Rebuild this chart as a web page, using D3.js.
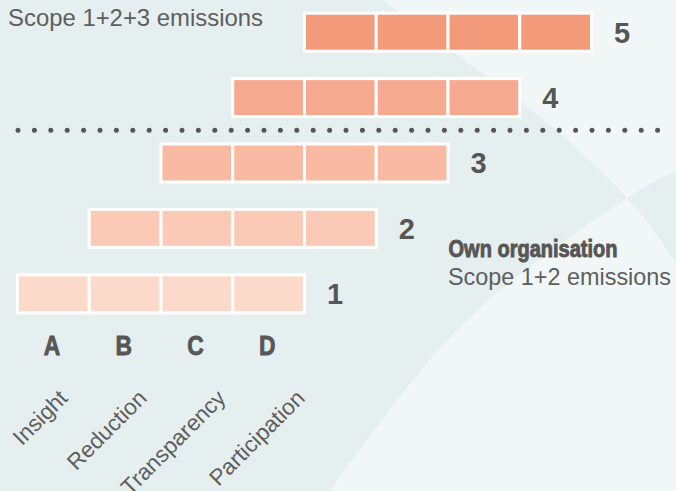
<!DOCTYPE html>
<html>
<head>
<meta charset="utf-8">
<script src="https://cdn.jsdelivr.net/npm/d3@7/dist/d3.min.js"></script>
<style>
  html, body { margin: 0; padding: 0; background: #e6eff0; }
  svg { display: block; }
  .plain { font-family: "Liberation Sans", Arial, sans-serif; fill: #5e5e5e; }
  .narrow { font-family: "Liberation Sans", Arial, sans-serif; font-weight: bold; fill: #565656; stroke: #565656; stroke-width: 0.9px; }
  .digit { font-family: "Liberation Sans", Arial, sans-serif; font-weight: bold; fill: #565656; }
</style>
</head>
<body>
<div id="chart"></div>
<script>
var svgWidth = 676;
var svgHeight = 491;

// maturity levels, bottom to top
var levels = [1, 2, 3, 4, 5];
// the four steps on every level
var steps = ["A", "B", "C", "D"];
var stepNames = ["Insight", "Reduction", "Transparency", "Participation"];
// texts
var scopeAll = "Scope 1+2+3 emissions";
var ownTitle = "Own organisation";
var ownScope = "Scope 1+2 emissions";
// dotted divider goes between these levels
var dividerBetween = [3, 4];

var svg = d3.select("#chart")
  .append("svg")
  .attr("width", svgWidth)
  .attr("height", svgHeight);

// background: two big crossing arcs, lighter where only one of them covers
var line = d3.line().curve(d3.curveCatmullRom);
var arc1 = [[370, -10], [383, 0], [464, 60], [544, 120], [627, 198], [676, 263], [692, 290]];
var arc2 = [[700, 156], [676, 170], [627, 198], [467, 320], [340, 477], [322, 505]];
svg.append("path")
  .attr("d", line(arc1) + "L700,-10Z" + line(arc2) + "L700,505Z")
  .attr("fill", "#f1f7f7")
  .attr("fill-rule", "evenodd");

// scales
var colW = 71.75;
var barH = 41;
var x = d3.scaleLinear().domain([0, 1]).range([17.5, 17.5 + colW]);
var y = d3.scaleLinear().domain([5, 1]).range([11.7, 273.3]);
var color = d3.scaleLinear().domain([1, 5]).range(["#fcdacb", "#f39a7b"]);
var labelX = d3.scalePoint().domain(stepNames).range([69, 306]);

var cells = [];
levels.forEach(function(L) {
  steps.forEach(function(s, i) {
    cells.push({ level: L, step: s, col: L - 1 + i });
  });
});

var chartGroup = svg.append("g");

chartGroup.selectAll("rect.cell")
  .data(cells)
  .enter()
  .append("rect")
  .attr("class", "cell")
  .attr("x", d => x(d.col))
  .attr("y", d => y(d.level) + 1.5)
  .attr("width", colW)
  .attr("height", barH - 3)
  .attr("fill", d => color(d.level))
  .attr("stroke", "#ffffff")
  .attr("stroke-width", 3);

// level numbers
chartGroup.selectAll("text.level")
  .data(levels)
  .enter()
  .append("text")
  .attr("class", "digit")
  .attr("x", d => x(d - 1 + steps.length) + 1.5 + 21)
  .attr("y", d => y(d) + barH / 2 + 10.4)
  .attr("font-size", "29px")
  .text(d => d);

// dotted divider
var dy = (y(dividerBetween[1]) + barH + y(dividerBetween[0])) / 2;
chartGroup.append("line")
  .attr("x1", 18)
  .attr("x2", 670)
  .attr("y1", dy)
  .attr("y2", dy)
  .attr("stroke", "#555555")
  .attr("stroke-width", 5)
  .attr("stroke-linecap", "round")
  .attr("stroke-dasharray", "0 16.4");

// step letters (condensed)
chartGroup.selectAll("text.step")
  .data(steps)
  .enter()
  .append("text")
  .attr("class", "narrow")
  .attr("x", (d, i) => x(i) + colW / 2 - 1.5)
  .attr("y", 355)
  .attr("text-anchor", "middle")
  .attr("font-size", "28.5px")
  .attr("textLength", 16.5)
  .attr("lengthAdjust", "spacingAndGlyphs")
  .text(d => d);

// step names, rotated
chartGroup.selectAll("text.name")
  .data(stepNames)
  .enter()
  .append("text")
  .attr("class", "plain")
  .attr("text-anchor", "end")
  .attr("font-size", "22.5px")
  .attr("transform", d => `translate(${labelX(d)}, 399.5) rotate(-45)`)
  .text(d => d);

// annotations
chartGroup.append("text")
  .attr("class", "plain")
  .attr("x", 8)
  .attr("y", 26)
  .attr("font-size", "24.5px")
  .attr("textLength", 255)
  .attr("lengthAdjust", "spacingAndGlyphs")
  .text(scopeAll);

chartGroup.append("text")
  .attr("class", "narrow")
  .attr("x", 448.5)
  .attr("y", 256.5)
  .attr("font-size", "23.5px")
  .attr("textLength", 169)
  .attr("lengthAdjust", "spacingAndGlyphs")
  .text(ownTitle);

chartGroup.append("text")
  .attr("class", "plain")
  .attr("x", 448)
  .attr("y", 285)
  .attr("font-size", "24.5px")
  .attr("textLength", 223)
  .attr("lengthAdjust", "spacingAndGlyphs")
  .text(ownScope);
</script>
</body>
</html>
